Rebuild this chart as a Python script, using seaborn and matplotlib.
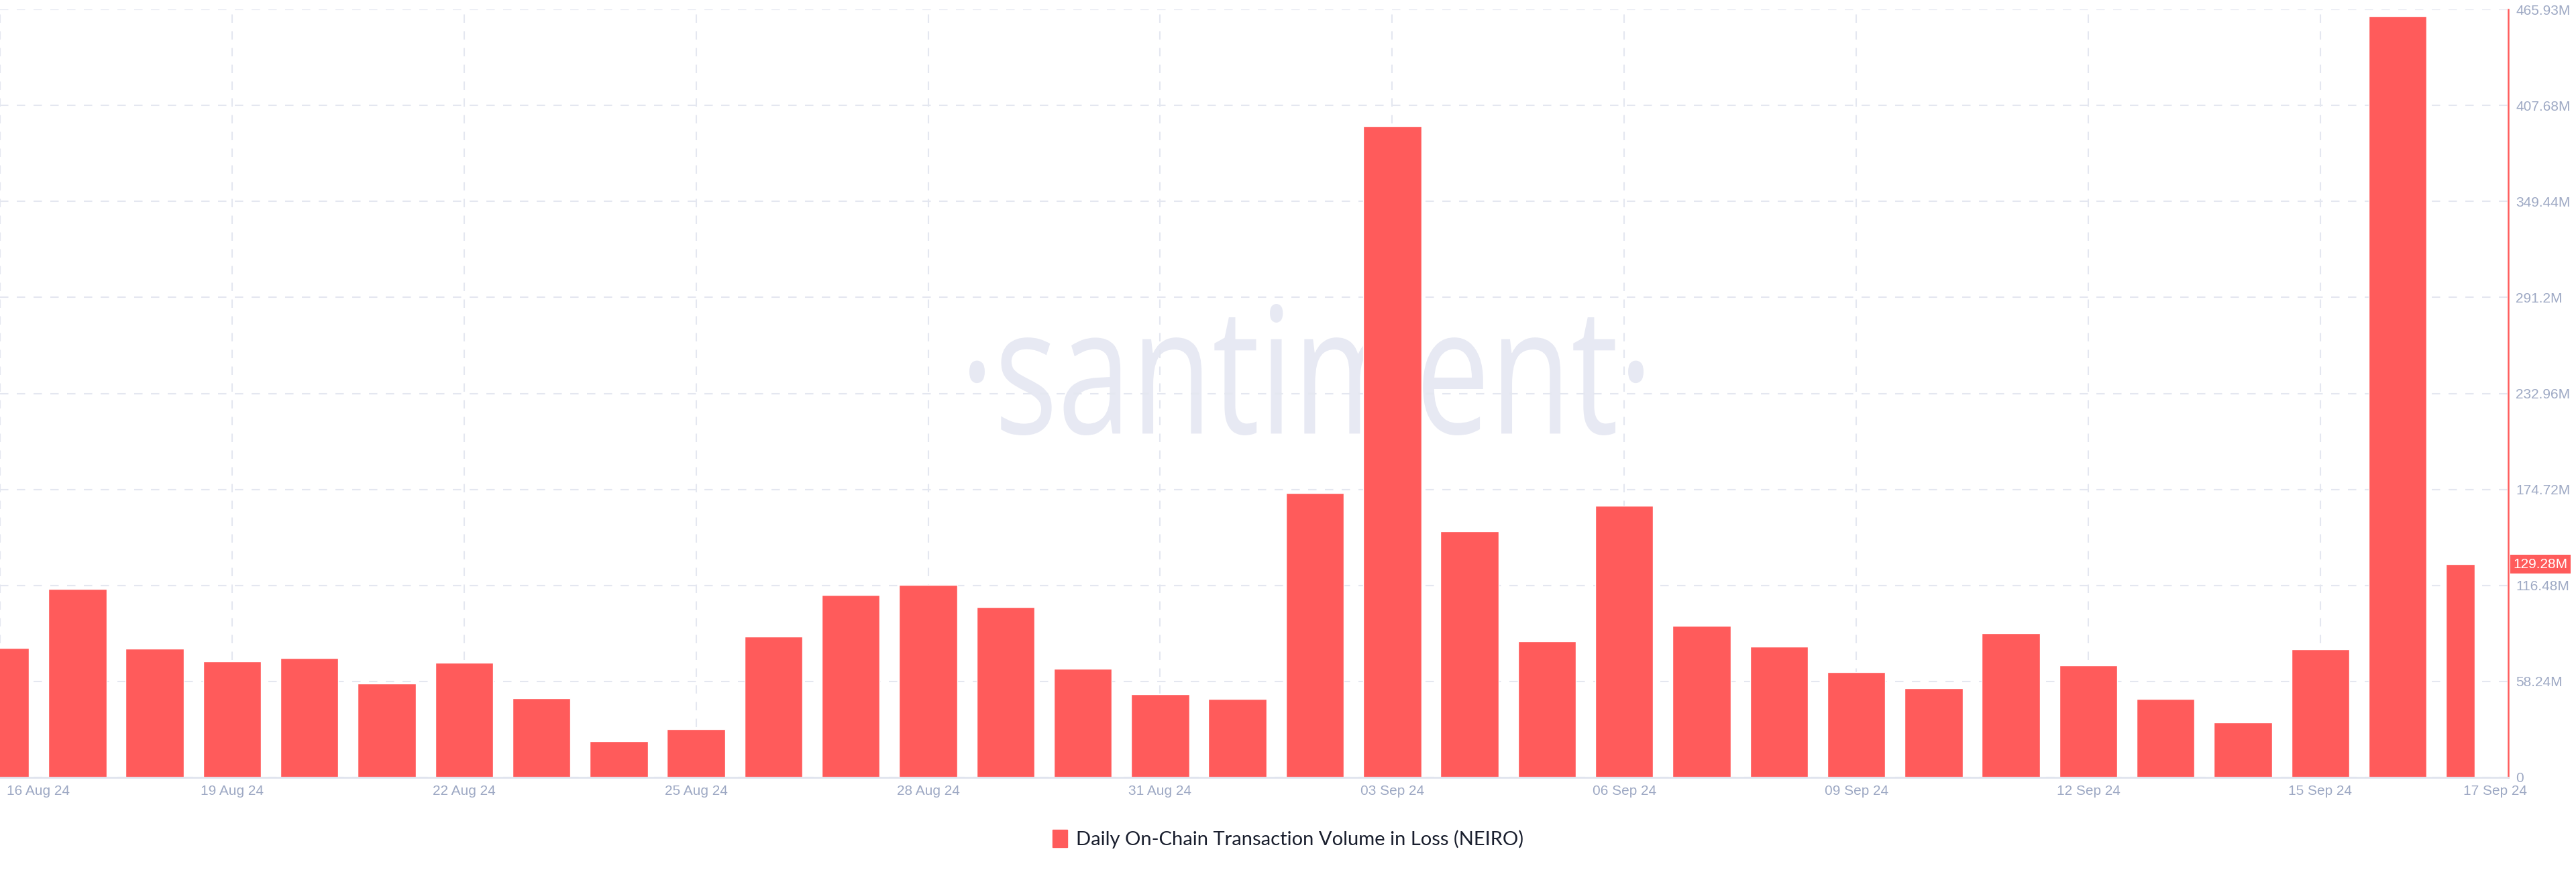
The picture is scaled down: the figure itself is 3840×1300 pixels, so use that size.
import matplotlib
matplotlib.use('Agg')
import matplotlib.pyplot as plt
import seaborn as sns
import pandas as pd
from matplotlib.patches import Patch, PathPatch
from matplotlib.textpath import TextPath
from matplotlib.font_manager import FontProperties
from matplotlib.transforms import Affine2D, ScaledTranslation

# data (millions)
dates = pd.date_range('2024-08-16', '2024-09-17', freq='D')
volume_m = [78.7, 114.2, 78.0, 70.6, 72.6, 56.9, 69.5, 48.2, 22.1, 29.1,
            85.6, 110.7, 116.8, 103.5, 65.8, 50.3, 47.5, 172.4, 395.1, 149.5,
            82.6, 165.0, 91.8, 79.4, 63.8, 54.2, 87.5, 67.9, 47.8, 33.3,
            77.6, 461.9, 129.28]
y_ticks = [0, 58.24, 116.48, 174.72, 232.96, 291.2, 349.44, 407.68, 465.93]
x_tick_idx = [0, 3, 6, 9, 12, 15, 18, 21, 24, 27, 30, 32]
series_name = 'Daily On-Chain Transaction Volume in Loss (NEIRO)'

bar_color = '#ff5b5b'
label_color = '#9ea9c4'
grid_color = '#e4e7f0'

sns.set_style('white')
plt.rcParams['font.family'] = ['Liberation Sans', 'DejaVu Sans']

df = pd.DataFrame({'date': dates.strftime('%d %b %y'), 'volume': volume_m})

fig = plt.figure(figsize=(38.4, 13), dpi=100)
ax = fig.add_axes([0, 1 - 1159 / 1300, 3739 / 3840, (1159 - 14) / 1300])

sns.barplot(data=df, x='date', y='volume', color=bar_color, width=0.75,
            saturation=1, ax=ax, zorder=2)
# last bar is only drawn up to its centre, like the source
last = ax.patches[-1]
last.set_width(last.get_width() / 2)

ax.set_xlim(0, 32.43)
ax.set_ylim(0, y_ticks[-1])

# y axis on the right
ax.yaxis.tick_right()
ax.set_yticks(y_ticks)
ax.set_yticklabels(['0' if v == 0 else ('%.2f' % v).rstrip('0').rstrip('.') + 'M' for v in y_ticks])
ax.tick_params(axis='y', length=0, pad=8, labelsize=15, labelcolor=label_color)

ax.set_xticks(x_tick_idx)
ax.set_xticklabels([df['date'][i] for i in x_tick_idx])
ax.tick_params(axis='x', length=0, pad=8, labelsize=15, labelcolor=label_color)
xt = ax.get_xticklabels()
xt[0].set_ha('left')
xt[0].set_transform(xt[0].get_transform() + ScaledTranslation(0.1, 0, fig.dpi_scale_trans))
xt[-1].set_transform(xt[-1].get_transform() + ScaledTranslation(0.3, 0, fig.dpi_scale_trans))

ax.set_xlabel('')
ax.set_ylabel('')

ax.grid(True, color=grid_color, linewidth=1.5, linestyle=(0, (6, 6)))
ax.set_axisbelow(True)
ax.xaxis.get_gridlines()[-1].set_visible(False)

for s in ['top', 'left']:
    ax.spines[s].set_visible(False)
ax.spines['bottom'].set_color('#e0e4ee')
ax.spines['bottom'].set_linewidth(2)
ax.spines['right'].set_color(bar_color)
ax.spines['right'].set_linewidth(1.8)

# latest value badge
ax.text(1.002, volume_m[-1], '%.2fM' % volume_m[-1], transform=ax.get_yaxis_transform(),
        ha='left', va='center', color='white', fontsize=15,
        bbox=dict(boxstyle='square,pad=0.22', fc=bar_color, ec='none'), zorder=5)

# watermark
tp = TextPath((0, 0), '\u00b7santiment\u00b7', size=1, prop=FontProperties(family='Open Sans'))
bb = tp.get_extents()
sx = 1005 / bb.width
sy = 196 / bb.height
tr = Affine2D().translate(-bb.x0, -bb.y0).scale(sx, sy).translate(1445, 1300 - 649)
wm = PathPatch(tp, transform=tr, facecolor='#e7e9f3', edgecolor='none', zorder=0.3, clip_on=False)
ax.add_artist(wm)

fig.legend(handles=[Patch(color=bar_color, label=series_name)], loc='center',
           bbox_to_anchor=(0.5, 1 - 1251 / 1300), frameon=False,
           handlelength=0.75, handleheight=1.0, handletextpad=0.45,
           prop={'family': 'Lato', 'size': 21}, labelcolor='#1a1f2e')

fig.savefig('out.png', dpi=100)
